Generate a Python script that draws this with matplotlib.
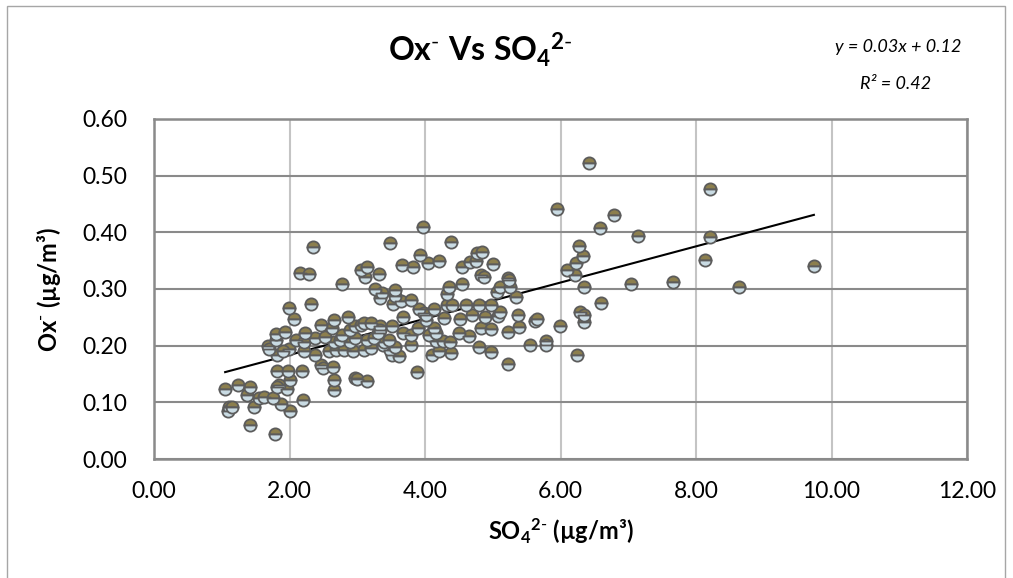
import numpy as np
import matplotlib
matplotlib.use("Agg")
import matplotlib.pyplot as plt
from matplotlib.patches import Rectangle

# SO4 2- (x) and Ox- (y) in ug/m3
so4 = [1.05, 1.10, 1.09, 1.15, 1.24, 1.42, 1.38, 1.48, 1.42, 1.55, 1.63, 1.75, 1.79, 1.88,
       1.81, 1.98, 1.85, 1.82, 1.96, 2.00, 2.01, 2.20, 2.19,
       1.81, 1.69, 1.70, 1.80, 1.80, 1.94, 1.99, 1.90, 2.06, 1.99, 2.10, 2.23, 2.22, 2.22,
       2.15, 2.29, 2.35, 2.31, 2.38, 2.38, 2.47, 2.49, 2.47, 2.53, 2.58, 2.68, 2.62, 2.66,
       2.64, 2.65, 2.65, 2.66, 2.77, 2.75, 2.78, 2.80, 2.86, 2.90, 2.90, 2.93, 2.97, 2.97,
       2.97, 2.99, 3.05, 3.10, 3.10, 3.15, 3.15, 3.20, 3.20, 3.25, 3.05, 3.14, 3.12, 3.32,
       3.26, 3.36, 3.34, 3.33, 3.33, 3.38, 3.40, 3.30, 3.49, 3.49, 3.52, 3.52, 3.55, 3.56,
       3.53, 3.62, 3.64, 3.66, 3.67, 3.67, 3.55, 3.47, 3.79, 3.79, 3.79, 3.82, 3.88, 3.89,
       3.91, 3.93, 3.97, 3.98, 4.01, 4.01, 4.04, 4.06, 4.11, 4.14, 4.14, 4.16, 4.16, 4.21,
       4.21, 4.26, 4.28, 4.32, 4.33, 4.36, 4.37, 4.38, 4.39, 4.40, 4.50, 4.52, 4.55, 4.55,
       4.60, 4.65, 4.67, 4.70, 4.75, 4.77, 4.80, 4.80, 4.82, 4.82, 4.84, 4.87, 4.89, 4.97,
       4.97, 4.97, 5.00, 5.06, 5.08, 5.10, 5.11, 5.22, 5.24, 5.22, 5.22, 5.26, 5.35, 5.37,
       5.39, 5.55, 5.63, 5.66, 5.79, 5.79, 5.95, 5.99, 6.10, 6.22, 6.23, 6.28, 6.33, 6.34,
       6.25, 6.29, 6.35, 6.35, 6.42, 6.58, 6.60, 6.79, 7.04, 7.14, 7.66, 8.13, 8.21, 8.21,
       8.63, 9.74]
ox = [0.124, 0.092, 0.085, 0.091, 0.131, 0.127, 0.113, 0.091, 0.060, 0.107, 0.109, 0.107, 0.044, 0.097,
      0.156, 0.155, 0.130, 0.127, 0.124, 0.140, 0.085, 0.104, 0.155,
      0.184, 0.200, 0.195, 0.210, 0.220, 0.225, 0.194, 0.190, 0.247, 0.267, 0.210, 0.222, 0.207, 0.190,
      0.328, 0.326, 0.374, 0.274, 0.213, 0.184, 0.166, 0.160, 0.237, 0.216, 0.190, 0.193, 0.232, 0.246,
      0.163, 0.140, 0.121, 0.207, 0.309, 0.210, 0.219, 0.193, 0.250, 0.228, 0.207, 0.190, 0.234, 0.213,
      0.143, 0.141, 0.237, 0.240, 0.193, 0.210, 0.137, 0.240, 0.196, 0.213, 0.334, 0.338, 0.322, 0.327,
      0.300, 0.293, 0.284, 0.234, 0.228, 0.201, 0.207, 0.222, 0.381, 0.193, 0.235, 0.184, 0.299, 0.288,
      0.274, 0.181, 0.278, 0.343, 0.251, 0.222, 0.198, 0.210, 0.281, 0.219, 0.201, 0.339, 0.154, 0.231,
      0.264, 0.360, 0.409, 0.257, 0.246, 0.254, 0.346, 0.219, 0.184, 0.264, 0.231, 0.222, 0.209, 0.349,
      0.190, 0.209, 0.249, 0.291, 0.272, 0.304, 0.207, 0.383, 0.187, 0.272, 0.223, 0.247, 0.338, 0.309,
      0.272, 0.217, 0.347, 0.254, 0.349, 0.364, 0.272, 0.197, 0.325, 0.231, 0.366, 0.322, 0.251, 0.272,
      0.229, 0.188, 0.345, 0.294, 0.253, 0.304, 0.260, 0.319, 0.316, 0.225, 0.167, 0.303, 0.286, 0.254,
      0.233, 0.201, 0.244, 0.247, 0.209, 0.201, 0.441, 0.234, 0.334, 0.325, 0.346, 0.375, 0.359, 0.303,
      0.183, 0.260, 0.254, 0.241, 0.523, 0.408, 0.275, 0.431, 0.309, 0.394, 0.313, 0.352, 0.477, 0.391,
      0.304, 0.340]

x_ticks = [0, 2, 4, 6, 8, 10, 12]
y_ticks = [0.0, 0.1, 0.2, 0.3, 0.4, 0.5, 0.6]

plt.rcParams['font.family'] = ['Lato', 'DejaVu Sans']
plt.rcParams['mathtext.fontset'] = 'custom'
plt.rcParams['mathtext.rm'] = 'Lato'
plt.rcParams['mathtext.bf'] = 'Lato:bold'
plt.rcParams['mathtext.it'] = 'Lato:italic'

fig = plt.figure(figsize=(10.13, 5.78), dpi=100)
ax = fig.add_axes([154/1013, 1 - 459/578, (967 - 154)/1013, (459 - 119)/578])

x = np.array(so4)
y = np.array(ox)

# linear trendline
slope, icpt = np.polyfit(x, y, 1)
xl = np.array([x.min(), x.max()])
ax.plot(xl, slope * xl + icpt, color='black', lw=1.5, zorder=2)

ax.plot(x, y, linestyle='none', marker='o', markersize=8.8, fillstyle='top',
        markerfacecolor='#8c7f4e', markerfacecoloralt='#c9dbe3',
        markeredgecolor='#5c5c5c', markeredgewidth=1.3, zorder=3)

ax.set_xlim(0, 12)
ax.set_ylim(0, 0.6)
ax.set_xticks(x_ticks)
ax.set_yticks(y_ticks)
ax.set_xticklabels([f"{v:.2f}" for v in x_ticks])
ax.set_yticklabels([f"{v:.2f}" for v in y_ticks])
ax.tick_params(length=0, labelsize=16.5, colors='black', pad=19)
ax.tick_params(axis='x', pad=16)

ax.yaxis.grid(True, color='#8a8a8a', lw=1.5)
ax.xaxis.grid(True, color='#c4c4c4', lw=1.5)
ax.set_axisbelow(True)
for s in ax.spines.values():
    s.set_color('#8a8a8a')
    s.set_linewidth(1.8)

ax.set_xlabel(r'$\mathbf{SO_4{}^{2\text{-}}}$ (µg/m³)', fontsize=17, fontweight='bold', labelpad=10)
ax.set_ylabel(r'$\mathbf{Ox^{\text{-}}}$ (µg/m³)', fontsize=17, fontweight='bold', labelpad=14)

fig.text(480/1013, 1 - 50/578, r'$\mathbf{Ox^{\text{-}}\ Vs\ SO_4{}^{2\text{-}}}$', fontsize=23,
         ha='center', va='center')
fig.text(898/1013, 1 - 47/578, 'y = 0.03x + 0.12', fontsize=13, style='italic',
         ha='center', va='center')
fig.text(896/1013, 1 - 84/578, 'R² = 0.42', fontsize=13, style='italic',
         ha='center', va='center')

# chart area border
fig.patches.append(Rectangle((7/1013, -0.05), 998/1013, 1.05 - 6/578,
                             transform=fig.transFigure, fill=False,
                             edgecolor='#a6a6a6', lw=1))

fig.savefig('out.png', dpi=100)
